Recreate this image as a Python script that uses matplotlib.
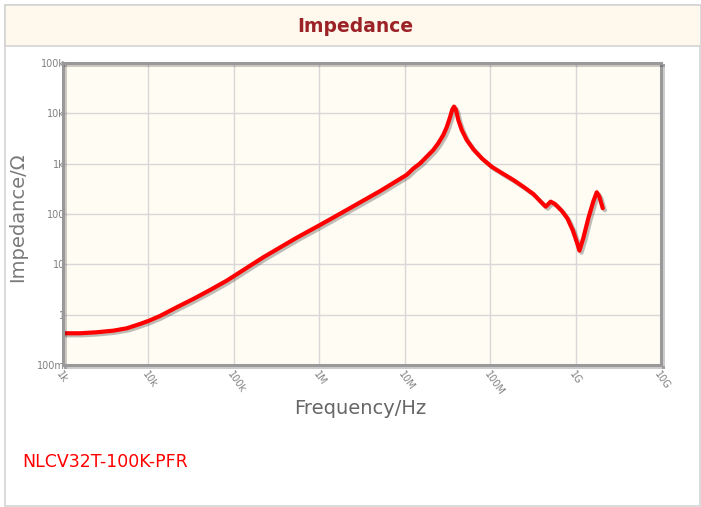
import numpy as np
import matplotlib
matplotlib.use("Agg")
import matplotlib.pyplot as plt
import matplotlib.patheffects as pe
from matplotlib.patches import Rectangle

# ─────────────────────────────────────────────
# Daten
# ─────────────────────────────────────────────
freq_hz = [1.0e3, 1.58e3, 2.48e3, 3.88e3, 5.57e3, 7.96e3, 1.016e4, 1.366e4, 2.14e4,
           3.35e4, 5.26e4, 8.24e4, 2.21e5, 5.44e5, 1.02e6, 2.09e6, 5.14e6, 1.055e7,
           1.26e7, 1.51e7, 1.81e7, 2.16e7, 2.47e7, 2.83e7, 3.10e7, 3.39e7, 3.61e7,
           3.78e7, 3.98e7, 4.24e7, 4.65e7, 5.32e7, 6.36e7, 7.97e7, 1.04e8, 1.43e8,
           1.87e8, 2.44e8, 3.20e8, 4.01e8, 4.47e8, 5.11e8, 5.74e8, 6.88e8, 8.00e8,
           9.25e8, 1.03e9, 1.11e9, 1.23e9, 1.41e9, 1.61e9, 1.77e9, 1.90e9, 2.08e9]
impedance_ohm = [0.427, 0.427, 0.447, 0.481, 0.536, 0.653, 0.759, 0.942, 1.40,
                 2.05, 3.09, 4.73, 13.8, 33.8, 60.5, 120, 285, 600,
                 800, 1010, 1380, 1870, 2540, 3720, 5280, 8350, 12000,
                 13600, 11700, 7380, 4670, 2950, 1930, 1280, 871, 624,
                 474, 349, 250, 168, 140, 176, 158, 116, 82.2,
                 48.1, 28.2, 18.7, 32.9, 82.2, 176, 270, 221, 130]

x_ticks = [1e3, 1e4, 1e5, 1e6, 1e7, 1e8, 1e9, 1e10]
x_tick_labels = ["1k", "10k", "100k", "1M", "10M", "100M", "1G", "10G"]
y_ticks = [0.1, 1, 10, 100, 1e3, 1e4, 1e5]
y_tick_labels = ["100m", "1", "10", "100", "1k", "10k", "100k"]

part_name = "NLCV32T-100K-PFR"

# ─────────────────────────────────────────────
# Layout
# ─────────────────────────────────────────────
W, H = 701, 507
fig = plt.figure(figsize=(W / 100, H / 100), dpi=100)
fig.patch.set_facecolor("white")

def fx(px):
    return px / W

def fy(py):
    return 1 - py / H

# Rahmen und Titelband
fig.add_artist(Rectangle((fx(5), fy(506)), fx(700) - fx(5), fy(5) - fy(506),
                         transform=fig.transFigure, facecolor="none",
                         edgecolor="#d4d4d4", lw=1.2))
fig.add_artist(Rectangle((fx(5), fy(46)), fx(701) - fx(5), fy(5) - fy(46),
                         transform=fig.transFigure, facecolor="#fef9ec",
                         edgecolor="#d4d4d4", lw=1.2))
fig.text(fx(355), fy(26), "Impedance", color="#9b2226", fontsize=13.5,
         fontweight="bold", ha="center", va="center")

ax = fig.add_axes([fx(63), fy(365), fx(661) - fx(63), fy(63) - fy(365)])
ax.set_facecolor("#fffcf4")
ax.set_xscale("log")
ax.set_yscale("log")
ax.set_xlim(1e3, 1e10)
ax.set_ylim(0.1, 1e5)

ax.plot(freq_hz, impedance_ohm, color="#ff0000", lw=3, solid_joinstyle="round",
        solid_capstyle="round",
        path_effects=[pe.SimpleLineShadow(offset=(1.5, -1.5), shadow_color="black", alpha=0.25),
                      pe.Normal()])

ax.set_xticks(x_ticks)
ax.set_xticklabels(x_tick_labels, rotation=-55, ha="left", va="top",
                   rotation_mode="anchor")
ax.set_yticks(y_ticks)
ax.set_yticklabels(y_tick_labels)
ax.minorticks_off()
ax.tick_params(axis="both", length=0, colors="#808080", labelsize=7)
ax.tick_params(axis="y", pad=-1.5)
ax.tick_params(axis="x", pad=3)
ax.grid(True, color="#d8d8d8", lw=1)
ax.set_axisbelow(True)

for sp in ax.spines.values():
    sp.set_color("#999999")
    sp.set_linewidth(2.2)
    sp.set_path_effects([pe.SimpleLineShadow(offset=(1.5, -1.5), alpha=0.2), pe.Normal()])

fig.text(fx(18), fy(217), "Impedance/\u03a9", color="#7a7a7a", fontsize=14,
         rotation=90, ha="center", va="center")
fig.text(fx(360), fy(408), "Frequency/Hz", color="#666666", fontsize=14,
         ha="center", va="center")

fig.text(fx(22), fy(462), part_name, color="#ff0000", fontsize=12.5,
         ha="left", va="center")

fig.savefig("out.png", dpi=100)
